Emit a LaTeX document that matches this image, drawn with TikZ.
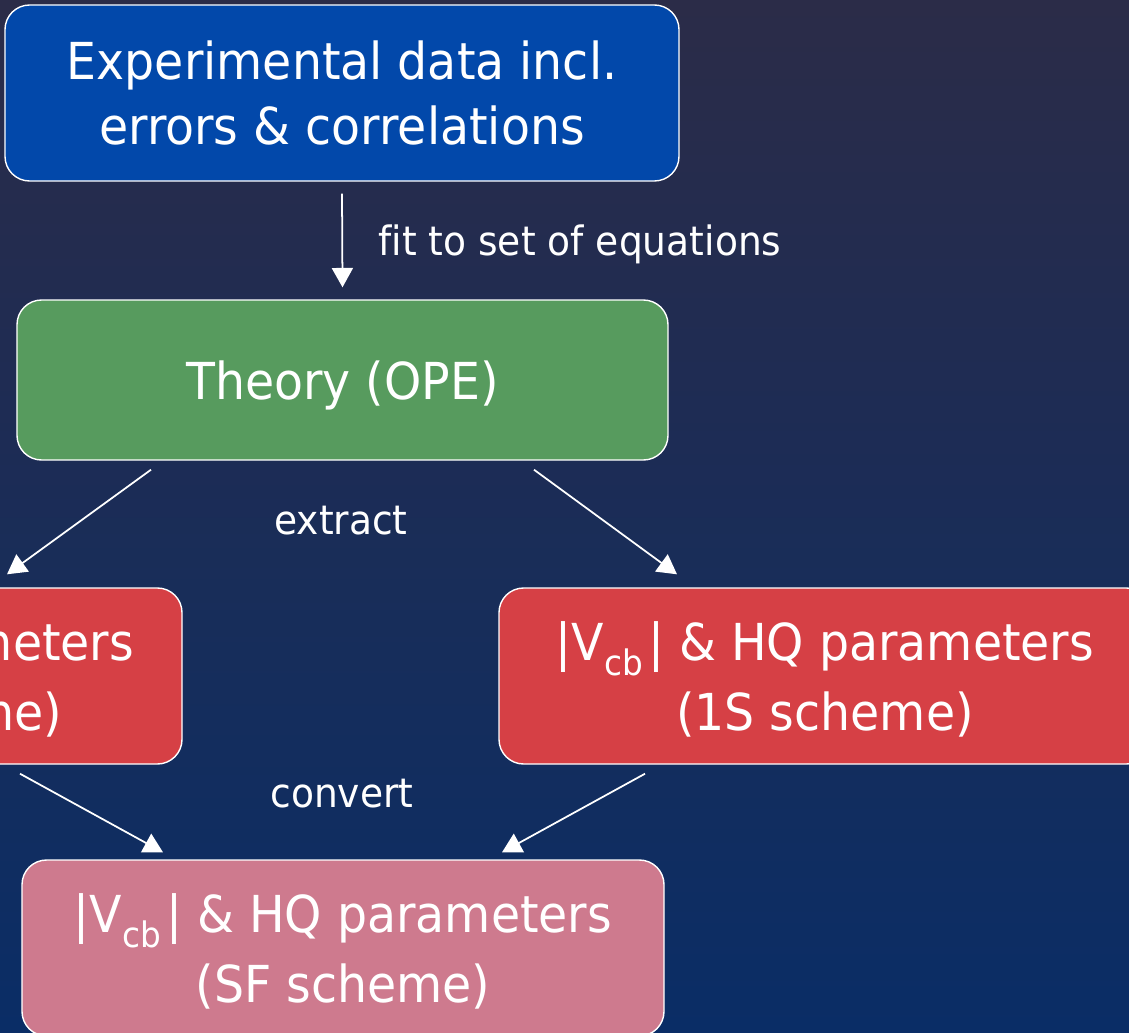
\documentclass[tikz,border=0pt]{standalone}
\usepackage{fontspec}
\setmainfont{DejaVu Sans}[FakeStretch=0.93, Ligatures=NoCommon]
\usetikzlibrary{calc,arrows.meta}
\definecolor{bgtop}{RGB}{43,44,72}
\definecolor{bgbottom}{RGB}{10,45,102}
\definecolor{expblue}{RGB}{2,72,170}
\definecolor{theorygreen}{RGB}{87,155,94}
\definecolor{schemered}{RGB}{214,64,69}
\definecolor{sfpink}{RGB}{206,122,142}
\newcommand{\Vcb}{|V\raisebox{-0.3em}{\fontsize{20}{20}\selectfont cb}\kern3pt|}
\tikzset{
  box/.style={draw=white, line width=0.8pt, rounded corners=14pt, text=white, align=center,
    font=\fontsize{29}{37}\selectfont, minimum height=3.52cm, inner sep=0pt, text depth=0pt},
  vcbbox/.style={box, font=\fontsize{29}{40}\selectfont},
  lbl/.style={text=white, inner sep=0pt, font=\fontsize{23}{28}\selectfont},
  flow/.style={draw=white, line width=1pt, -{Triangle[length=11pt,width=12pt]}},
}
\begin{document}
\begin{tikzpicture}[x=0.2mm, y=-0.2mm]
    \useasboundingbox (0,0) rectangle (1129,1032);
    \clip (0,0) rectangle (1129,1032);
    \fill[top color=bgtop, bottom color=bgbottom] (0,0) rectangle (1129,1032);

    \node[box, fill=expblue, minimum width=13.48cm] (exp) at (342,93) {Experimental data incl.\\errors \& correlations};
    \node[box, fill=theorygreen, minimum width=13.02cm, minimum height=3.2cm] (ope) at (342.5,380) {Theory (OPE)};
    \node[vcbbox, fill=schemered, minimum width=12.68cm] (kin) at (-135,676) {\Vcb{} \& HQ parameters\\(kinetic scheme)};
    \node[vcbbox, fill=schemered, minimum width=13.04cm] (ones) at (825,676) {\Vcb{} \& HQ parameters\\(1S scheme)};
    \node[vcbbox, fill=sfpink, minimum width=12.84cm] (sf) at (343,948) {\Vcb{} \& HQ parameters\\(SF scheme)};

    \draw[flow] ($(exp.south)+(0,12)$) -- ($(ope.north)+(0,-12)$);
    \draw[flow] ($(ope.south)+(-191.5,9)$) -- ($(kin.north)+(142,-13)$);
    \draw[flow] ($(ope.south)+(191.5,9)$) -- ($(ones.north)+(-148,-13)$);
    \draw[flow] ($(kin.south)+(155,9)$) -- ($(sf.north)+(-180,-7)$);
    \draw[flow] ($(ones.south)+(-180,9)$) -- ($(sf.north)+(159,-7)$);

    \node[lbl, anchor=base west] (fit) at (378,255) {fit to set of equations};
    \node[lbl, anchor=base] (extract) at (341,534) {extract};
    \node[lbl, anchor=base] (convert) at (342,807) {convert};
\end{tikzpicture}
\end{document}
